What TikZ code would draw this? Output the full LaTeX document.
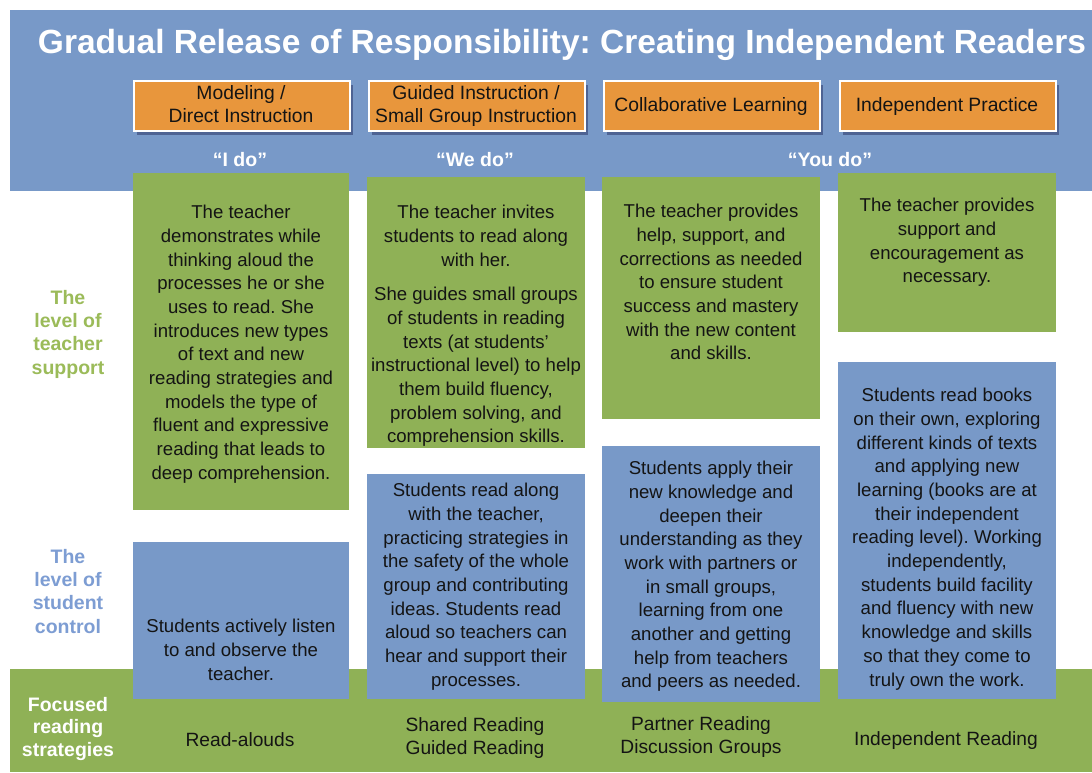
\documentclass[tikz,border=0pt]{standalone}
\usepackage{fontspec}
\setmainfont{Liberation Sans}
\usetikzlibrary{shadows}
\frenchspacing
\definecolor{hdrblue}{RGB}{120,153,200}
\definecolor{boxgreen}{RGB}{143,177,86}
\definecolor{boxblue}{RGB}{120,153,200}
\definecolor{boxorange}{RGB}{232,150,60}
\definecolor{lblgreen}{RGB}{155,187,89}
\definecolor{lblblue}{RGB}{125,157,211}
\definecolor{txtdark}{RGB}{20,20,20}
\tikzset{
  panel/.style={rectangle, inner sep=0pt, draw=none, anchor=north west},
  gbox/.style={panel, fill=boxgreen},
  bbox/.style={panel, fill=boxblue},
  obox/.style={panel, fill=boxorange, draw=white, line width=1.5pt,
    drop shadow={shadow xshift=3pt, shadow yshift=-4pt, opacity=0.35, fill=black!80!blue}},
  body/.style={inner sep=0pt, anchor=north, align=center, text=txtdark,
    font=\frenchspacing\fontsize{18.6}{23.7}\selectfont},
  otext/.style={inner sep=0pt, anchor=north, align=center, text=txtdark,
    font=\fontsize{19.3}{23}\selectfont},
  doing/.style={inner sep=0pt, anchor=north, text=white,
    font=\bfseries\fontsize{19.5}{23}\selectfont},
  sidelbl/.style={inner sep=0pt, anchor=north, align=center,
    font=\bfseries\fontsize{19.5}{23.3}\selectfont},
  strat/.style={inner sep=0pt, anchor=north, align=center, text=txtdark,
    font=\fontsize{19.2}{23}\selectfont},
}
\begin{document}
\begin{tikzpicture}[x=1pt,y=-1pt]
\useasboundingbox (0,0) rectangle (1092,772);
\fill[white] (0,0) rectangle (1092,772);
% background bands
\node[panel, fill=hdrblue, minimum width=1082pt, minimum height=181pt] (header) at (10,10) {};
\node[panel, fill=boxgreen, minimum width=1082pt, minimum height=103pt] (band) at (10,669) {};
% title
\node[inner sep=0pt, anchor=north, text=white, font=\bfseries\fontsize{33.5}{40}\selectfont] (title) at (562,29)
  {Gradual Release of Responsibility: Creating Independent Readers};
% orange phase boxes
\node[obox, minimum width=216pt, minimum height=50pt] (o1) at (133,80) {};
\node[obox, minimum width=216pt, minimum height=50pt] (o2) at (368,80) {};
\node[obox, minimum width=216pt, minimum height=50pt] (o3) at (603,80) {};
\node[obox, minimum width=216pt, minimum height=50pt] (o4) at (839,80) {};
\node[otext] (o1t) at (241,85) {Modeling /\\Direct Instruction};
\node[otext] (o2t) at (476,85) {Guided Instruction /\\Small Group Instruction};
\node[otext] (o3t) at (711,97) {Collaborative Learning};
\node[otext] (o4t) at (947,97) {Independent Practice};
% I do / We do / You do
\node[doing] (ido) at (240,152) {“I do”};
\node[doing] (wedo) at (475,152) {“We do”};
\node[doing] (youdo) at (830,152) {“You do”};
% teacher support boxes
\node[gbox, minimum width=216pt, minimum height=337pt] (g1) at (133,173) {};
\node[gbox, minimum width=218pt, minimum height=271pt] (g2) at (367,177) {};
\node[gbox, minimum width=218pt, minimum height=242pt] (g3) at (602,177) {};
\node[gbox, minimum width=218pt, minimum height=159pt] (g4) at (838,173) {};
% student control boxes
\node[bbox, minimum width=216pt, minimum height=157pt] (b1) at (133,542) {};
\node[bbox, minimum width=218pt, minimum height=225pt] (b2) at (367,474) {};
\node[bbox, minimum width=218pt, minimum height=256pt] (b3) at (602,446) {};
\node[bbox, minimum width=218pt, minimum height=337pt] (b4) at (838,362) {};
% texts of teacher support
\node[body] (g1t) at (241,205) {The teacher\\demonstrates while\\thinking aloud the\\processes he or she\\uses to read. She\\introduces new types\\of text and new\\reading strategies and\\models the type of\\fluent and expressive\\reading that leads to\\deep comprehension.};
\node[body] (g2t) at (476,205) {The teacher invites\\students to read along\\with her.\\[11pt]She guides small groups\\of students in reading\\texts (at students’\\instructional level) to help\\them build fluency,\\problem solving, and\\comprehension skills.};
\node[body] (g3t) at (711,204) {The teacher provides\\help, support, and\\corrections as needed\\to ensure student\\success and mastery\\with the new content\\and skills.};
\node[body] (g4t) at (947,198) {The teacher provides\\support and\\encouragement as\\necessary.};
% texts of student control
\node[body] (b1t) at (241,619) {Students actively listen\\to and observe the\\teacher.};
\node[body] (b2t) at (476,483) {Students read along\\with the teacher,\\practicing strategies in\\the safety of the whole\\group and contributing\\ideas. Students read\\aloud so teachers can\\hear and support their\\processes.};
\node[body] (b3t) at (711,461) {Students apply their\\new knowledge and\\deepen their\\understanding as they\\work with partners or\\in small groups,\\learning from one\\another and getting\\help from teachers\\and peers as needed.};
\node[body] (b4t) at (947,388) {Students read books\\on their own, exploring\\different kinds of texts\\and applying new\\learning (books are at\\their independent\\reading level). Working\\independently,\\students build facility\\and fluency with new\\knowledge and skills\\so that they come to\\truly own the work.};
% side labels
\node[sidelbl, text=lblgreen] (lteach) at (68,290) {The\\level of\\teacher\\support};
\node[sidelbl, text=lblblue] (lstud) at (68,549) {The\\level of\\student\\control};
\node[sidelbl, text=white, font=\bfseries\fontsize{19.5}{22.6}\selectfont] (lfoc) at (68,697) {Focused\\reading\\strategies};
% strategies
\node[strat] (s1) at (240,732) {Read-alouds};
\node[strat] (s2) at (475,717) {Shared Reading\\Guided Reading};
\node[strat] (s3) at (701,716) {Partner Reading\\Discussion Groups};
\node[strat] (s4) at (946,731) {Independent Reading};
\end{tikzpicture}
\end{document}
